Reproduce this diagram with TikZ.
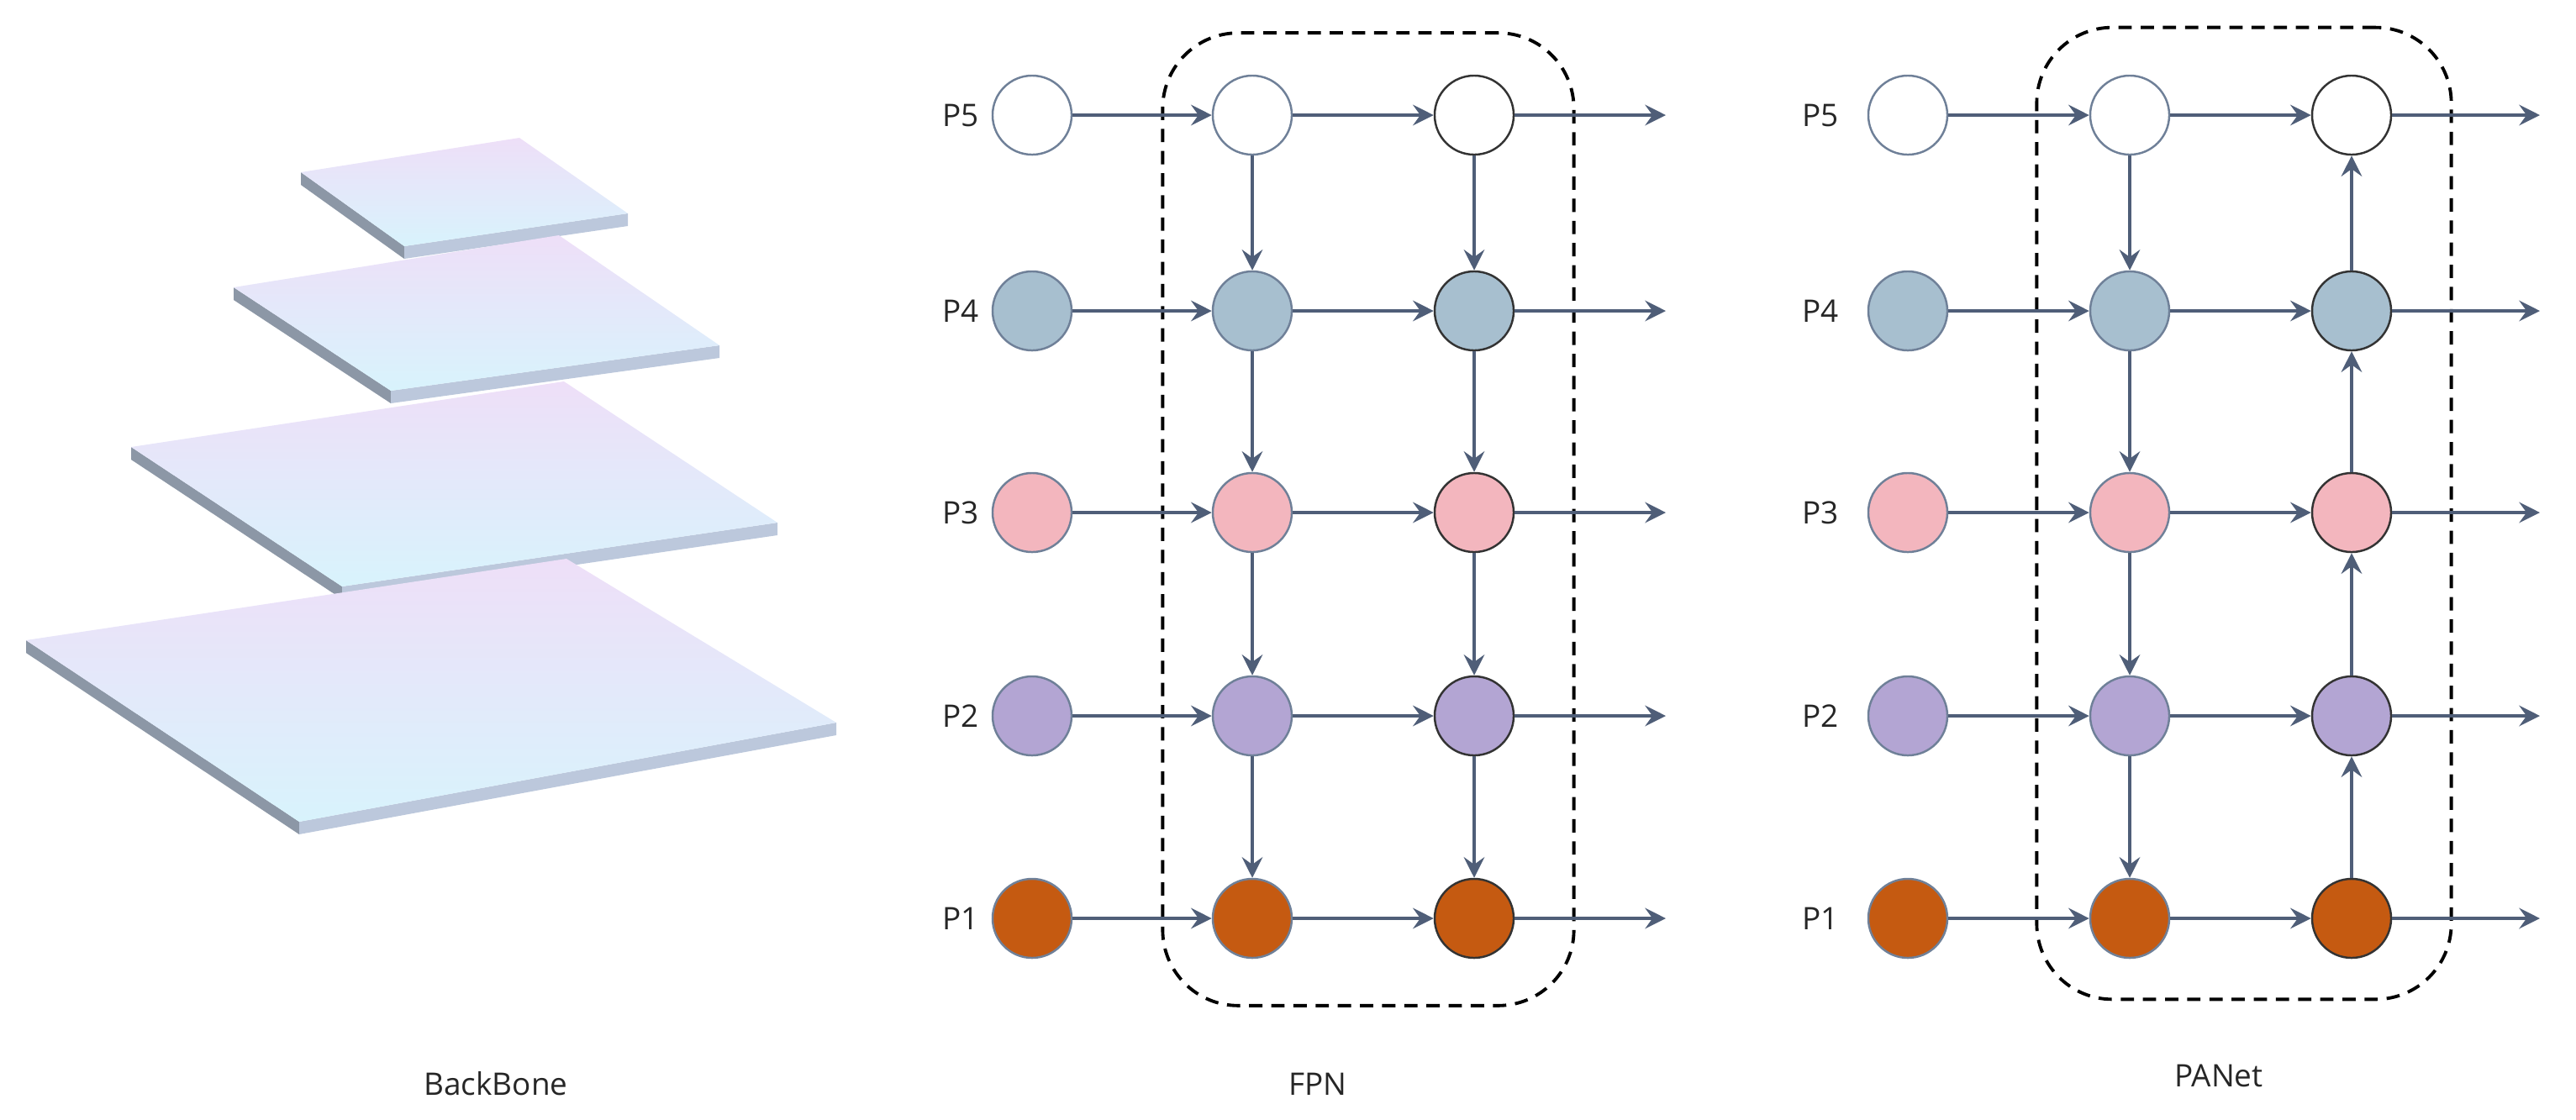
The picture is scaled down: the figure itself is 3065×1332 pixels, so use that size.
\documentclass[tikz,border=0pt]{standalone}
\usepackage{fontspec}
\setmainfont{Open Sans}
\usetikzlibrary{arrows.meta}
\definecolor{ar}{HTML}{4F5E78}
\definecolor{bd}{HTML}{6F8098}
\definecolor{cA}{HTML}{FFFFFF}
\definecolor{cB}{HTML}{A7BFCF}
\definecolor{cC}{HTML}{F3B6BE}
\definecolor{cD}{HTML}{B3A5D3}
\definecolor{cE}{HTML}{C55A11}
\definecolor{sideL}{HTML}{8C97A6}
\definecolor{sideR}{HTML}{BCC8DC}
\definecolor{topc}{HTML}{EEDFF8}
\definecolor{botc}{HTML}{D8F3FC}
\begin{document}
\begin{tikzpicture}[x=0.01cm,y=-0.01cm,
  nd/.style={circle,minimum size=0.94cm,inner sep=0pt,draw=bd,line width=0.7pt},
  nd3/.style={nd,draw=black!80},
  con/.style={draw=ar,line width=1.1pt,-{Stealth[length=7pt,width=7pt,inset=2.5pt]}},
  box/.style={draw=black,line width=1.1pt,dash pattern=on 4.5pt off 3pt,rounded corners=0.9cm},
  lab/.style={font=\fontsize{10.5}{12}\selectfont,text=black!85}]
\useasboundingbox (0,0) rectangle (3065,1332);
% backbone plates
\foreach \Lx/\Ly/\Tx/\Ty/\Rx/\Ry/\Bx/\By [count=\i] in {358/205/618/164/747/254/481/293, 278/342/665/280/856/411/465/465, 156/532/671/454/925/622/407/698, 31/762/674/665/995/860/356/978}{
  \fill[sideL] (\Lx,\Ly) -- (\Bx,\By) -- (\Bx,\By+15) -- (\Lx,\Ly+15) -- cycle;
  \fill[sideR] (\Bx,\By) -- (\Rx,\Ry) -- (\Rx,\Ry+15) -- (\Bx,\By+15) -- cycle;
  \shade[top color=topc,bottom color=botc] (\Lx,\Ly) -- (\Tx,\Ty) -- (\Rx,\Ry) -- (\Bx,\By) -- cycle;
}
\node[lab] (bb) at (590,1290) {BackBone};
% FPN
\node[box,minimum width=4.89cm,minimum height=11.57cm] (fbox) at (1628,618) {};
\node[box,minimum width=4.93cm,minimum height=11.56cm] (pbox) at (2670,611) {};
\foreach \r/\y/\c in {5/137/cA,4/370/cB,3/610/cC,2/852/cD,1/1093/cE}{
  \node[lab] (fl\r) at (1143,\y) {P\r};
  \node[nd,fill=\c] (fa\r) at (1228,\y) {};
  \node[nd,fill=\c] (fb\r) at (1490,\y) {};
  \node[nd3,fill=\c] (fc\r) at (1754,\y) {};
  \coordinate (fo\r) at (1982,\y);
  \draw[con] (fa\r) -- (fb\r);
  \draw[con] (fb\r) -- (fc\r);
  \draw[con] (fc\r) -- (fo\r);
  \node[lab] (pl\r) at (2166,\y) {P\r};
  \node[nd,fill=\c] (pa\r) at (2270,\y) {};
  \node[nd,fill=\c] (pb\r) at (2534,\y) {};
  \node[nd3,fill=\c] (pc\r) at (2798,\y) {};
  \coordinate (po\r) at (3022,\y);
  \draw[con] (pa\r) -- (pb\r);
  \draw[con] (pb\r) -- (pc\r);
  \draw[con] (pc\r) -- (po\r);
}
\foreach \u/\d in {5/4,4/3,3/2,2/1}{
  \draw[con] (fb\u) -- (fb\d);
  \draw[con] (fc\u) -- (fc\d);
  \draw[con] (pb\u) -- (pb\d);
  \draw[con] (pc\d) -- (pc\u);
}
\node[lab] (fpn) at (1568,1290) {FPN};
\node[lab] (pan) at (2640,1280) {PANet};
\end{tikzpicture}
\end{document}
